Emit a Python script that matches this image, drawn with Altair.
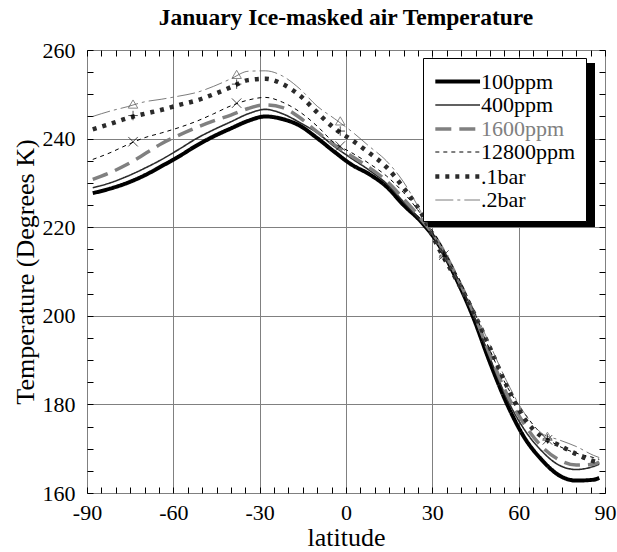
import altair as alt
import pandas as pd

# ---------------- data ----------------
lat = [-88, -82, -76, -70, -64, -58, -52, -46, -40, -34, -28, -22, -16, -10, -4,
       2, 8, 14, 20, 26, 32, 38, 44, 50, 56, 62, 68, 74, 80, 86, 88]

series_names = ["100ppm", "400ppm", "1600ppm", "12800ppm", ".1bar", ".2bar"]

t_100ppm = [227.7, 228.7, 230.0, 231.7, 233.8, 236.0, 238.4, 240.5, 242.3, 244.0, 245.0,
            244.4, 242.9, 240.1, 237.0, 234.1, 232.0, 229.2, 225.0, 221.3, 216.3, 208.8,
            200.0, 189.5, 180.0, 172.5, 167.5, 164.0, 162.8, 163.0, 163.4]
t_400ppm = [228.9, 230.0, 231.5, 233.3, 235.3, 237.6, 240.0, 242.0, 243.8, 245.6, 246.6,
            245.6, 243.6, 241.3, 238.2, 235.5, 232.9, 229.9, 225.7, 221.4, 216.6, 209.2,
            200.6, 190.5, 181.2, 174.3, 169.5, 166.3, 165.3, 166.0, 166.5]
t_1600ppm = [230.8, 232.3, 234.2, 236.5, 238.9, 240.8, 242.5, 244.0, 245.3, 246.8, 247.6,
             247.0, 244.7, 241.5, 238.6, 236.0, 233.5, 230.5, 226.4, 222.0, 216.8, 209.5,
             201.2, 191.3, 182.2, 175.5, 170.5, 167.5, 166.3, 166.5, 167.0]
t_12800ppm = [235.3, 236.8, 238.6, 240.2, 241.3, 242.5, 243.9, 245.6, 247.4, 248.7, 249.3,
              248.2, 246.0, 242.8, 239.0, 236.8, 234.4, 231.6, 227.8, 223.0, 217.2, 210.0,
              201.8, 192.3, 184.0, 178.0, 173.3, 170.6, 169.0, 168.0, 167.6]
t_01bar = [242.1, 243.3, 244.6, 245.6, 246.5, 247.6, 248.6, 250.0, 251.6, 253.2, 253.5,
           252.3, 249.7, 245.9, 242.3, 239.7, 236.8, 233.6, 228.9, 223.4, 215.5, 208.6,
           201.2, 192.8, 184.0, 176.8, 172.7, 170.8, 168.8, 167.2, 166.9]
t_02bar = [245.0, 246.2, 247.2, 248.3, 248.9, 249.6, 250.4, 251.8, 253.5, 255.2, 255.3,
           254.1, 251.2, 247.3, 244.5, 241.6, 238.3, 235.0, 230.2, 223.5, 215.8, 209.0,
           201.8, 193.5, 185.0, 178.0, 173.5, 172.0, 170.5, 168.5, 168.0]

marker_lat = [-74, -38, -2, 34, 70]
marker_12800ppm = [239.3, 248.0, 238.3, 213.7, 172.0]
marker_01bar = [245.2, 252.3, 241.7, 213.5, 172.2]
marker_02bar = [247.8, 254.5, 244.0, 214.0, 172.8]

x_major = [-90, -60, -30, 0, 30, 60, 90]
x_minor = list(range(-90, 91, 5))
y_major = [160, 180, 200, 220, 240, 260]
y_minor = list(range(160, 261, 5))

# ---------------- tables ----------------
all_vals = [t_100ppm, t_400ppm, t_1600ppm, t_12800ppm, t_01bar, t_02bar]
rows = []
for name, vals in zip(series_names, all_vals):
    for la, v in zip(lat, vals):
        rows.append({"lat": la, "temp": v, "series": name})
df = pd.DataFrame(rows)

mrows = []
for kind, vals in zip(["x", "plus", "tri"], [marker_12800ppm, marker_01bar, marker_02bar]):
    for la, v in zip(marker_lat, vals):
        mrows.append({"lat": la, "temp": v, "kind": kind})
mdf = pd.DataFrame(mrows)

# ---------------- styles ----------------
FONT = "Liberation Serif"
W, H = 518, 443
colors = ["#000000", "#2b2b2b", "#808080", "#000000", "#2b2b2b", "#5a5a5a"]
widths = [4, 1.6, 3.5, 1, 4.5, 0.8]
dashes = [[1, 0], [1, 0], [16, 8], [4, 4], [4, 6], [18, 4, 3, 4]]

xscale = alt.Scale(domain=[-90, 90], nice=False, zero=False)
yscale = alt.Scale(domain=[160, 260], nice=False, zero=False)

legend = alt.Legend(
    title=None, orient="none", legendX=336, legendY=8,
    symbolType="M-1,0L3,0", symbolSize=500,
    labelFont=FONT, labelFontSize=22,
    labelExpr="datum.label + ' '",
    labelColor={"expr": "datum.label == '1600ppm' ? '#808080' : '#000000'"},
    fillColor="white", strokeColor="black", padding=10, rowPadding=0,
    labelOffset=21, labelLimit=220,
)

main_x_axis = alt.Axis(
    values=x_major, grid=True, gridColor="#808080", gridWidth=1, ticks=False,
    domain=False, labelFont=FONT, labelFontSize=22, labelColor="black",
    labelExpr="datum.value + ''",
    labelPadding=9, labelFlush=False, title="latitude", titleFont=FONT,
    titleFontSize=26, titleFontWeight="normal", titleColor="black", titlePadding=1,
)
main_y_axis = alt.Axis(
    values=y_major, grid=True, gridColor="#808080", gridWidth=1, ticks=False,
    domain=False, labelFont=FONT, labelFontSize=22, labelColor="black",
    labelPadding=12, labelFlush=False, title="Temperature (Degrees K)",
    titleFont=FONT, titleFontSize=26, titleFontWeight="normal",
    titleColor="black", titlePadding=4,
)

def tick_axis(orient, values, offset):
    return alt.Axis(orient=orient, offset=offset, values=values, ticks=True,
                    tickSize=6, tickColor="black", tickWidth=1, labels=False,
                    domain=False, grid=False, title=None)

lines = alt.Chart(df).mark_line(strokeCap="butt", interpolate="monotone").encode(
    x=alt.X("lat:Q", scale=xscale, axis=main_x_axis),
    y=alt.Y("temp:Q", scale=yscale, axis=main_y_axis),
    color=alt.Color("series:N", scale=alt.Scale(type="ordinal", domain=series_names, range=colors), legend=legend),
    strokeDash=alt.StrokeDash("series:N", scale=alt.Scale(type="ordinal", domain=series_names, range=dashes), legend=legend),
    strokeWidth=alt.StrokeWidth("series:N", scale=alt.Scale(type="ordinal", domain=series_names, range=widths), legend=legend),
    order=alt.Order("lat:Q"),
)

marker_paths = ["M-1,-1L1,1M-1,1L1,-1", "M-1,0L1,0M0,-1L0,1", "triangle-up"]
markers = alt.Chart(mdf).mark_point(filled=False, strokeWidth=1, size=90).encode(
    x=alt.X("lat:Q", scale=xscale, axis=None),
    y=alt.Y("temp:Q", scale=yscale, axis=None),
    shape=alt.Shape("kind:N", scale=alt.Scale(domain=["x", "plus", "tri"], range=marker_paths), legend=None),
    stroke=alt.Stroke("kind:N", scale=alt.Scale(domain=["x", "plus", "tri"], range=["#000000", "#000000", "#555555"]), legend=None),
)

ticks_a = alt.Chart(df).mark_point(opacity=0).encode(
    x=alt.X("lat:Q", scale=xscale, axis=tick_axis("top", x_minor, -H)),
    y=alt.Y("temp:Q", scale=yscale, axis=tick_axis("right", y_minor, -W)),
)
ticks_b = alt.Chart(df).mark_point(opacity=0).encode(
    x=alt.X("lat:Q", scale=xscale, axis=tick_axis("bottom", x_minor, -H)),
    y=alt.Y("temp:Q", scale=yscale, axis=tick_axis("left", y_minor, -W)),
)

# drop shadow behind the legend box
shadow = alt.Chart(pd.DataFrame({"k": [0]})).mark_rect(color="black").encode(
    x=alt.value(341), x2=alt.value(508), y=alt.value(13), y2=alt.value(177),
)

chart = alt.layer(ticks_a, ticks_b, lines, markers, shadow).resolve_axis(
    x="independent", y="independent"
).properties(
    width=W, height=H,
    title=alt.TitleParams("January Ice-masked air Temperature", font=FONT,
                          fontSize=23.5, fontWeight="bold", color="black", offset=10),
    autosize=alt.AutoSizeParams(type="none"),
    padding={"left": 87, "top": 50, "right": 12, "bottom": 59},
).configure_view(stroke="black", strokeWidth=1.5).configure(background="white")

chart.save("out.html", embed_options={"renderer": "svg", "actions": False})
